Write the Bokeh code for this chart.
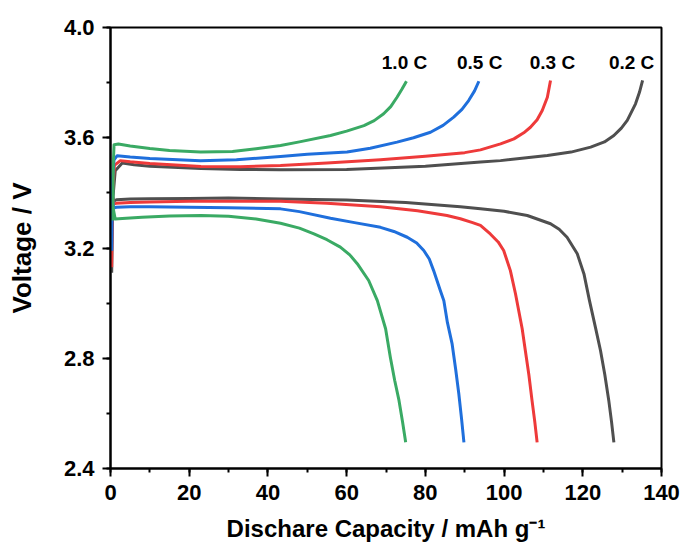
from bokeh.plotting import figure
from bokeh.models import Range1d, SingleIntervalTicker, NumeralTickFormatter, Label
from bokeh.embed import file_html
from bokeh.resources import INLINE

# ---- data ----
rates = ["1.0 C", "0.5 C", "0.3 C", "0.2 C"]
colors = ["#3aaa64", "#1f6fdc", "#ee3a3a", "#4f4f4f"]

chg_x_10 = [0.6, 0.7, 0.9, 2, 5, 10, 15, 22.9, 31, 37, 43.2, 48, 55.9, 60, 64.4, 67, 69.4, 71.2, 72.8, 74, 75.2]
chg_v_10 = [3.30, 3.50, 3.575, 3.577, 3.570, 3.561, 3.554, 3.548, 3.550, 3.560, 3.572, 3.585, 3.608, 3.624, 3.644, 3.662, 3.687, 3.713, 3.747, 3.775, 3.805]
chg_x_05 = [0.3, 0.5, 0.9, 1.7, 5, 10, 22.9, 32, 43.2, 50, 60.1, 66, 72.8, 77, 81.3, 84.5, 87.2, 89.3, 91, 92.5, 93.6]
chg_v_05 = [3.19, 3.45, 3.52, 3.535, 3.530, 3.525, 3.517, 3.520, 3.532, 3.540, 3.548, 3.562, 3.584, 3.600, 3.620, 3.645, 3.675, 3.703, 3.735, 3.770, 3.805]
chg_x_03 = [0.3, 0.5, 1.0, 2.5, 5, 10, 23, 33, 43.2, 55, 68.6, 80, 90, 94, 99.1, 102.5, 105, 106.7, 108.4, 109.7, 111, 111.8]
chg_v_03 = [3.13, 3.40, 3.50, 3.517, 3.513, 3.507, 3.496, 3.495, 3.499, 3.508, 3.520, 3.533, 3.546, 3.556, 3.578, 3.596, 3.618, 3.638, 3.665, 3.699, 3.747, 3.808]
chg_x_02 = [0.3, 0.6, 1.2, 3, 6, 10, 23, 33, 43.2, 60, 80, 94, 99.1, 111, 117, 122, 125.5, 127.9, 129.8, 131.3, 133.4, 134.4, 135.2]
chg_v_02 = [3.11, 3.38, 3.48, 3.508, 3.502, 3.497, 3.488, 3.485, 3.484, 3.485, 3.497, 3.512, 3.517, 3.536, 3.548, 3.566, 3.585, 3.608, 3.635, 3.663, 3.723, 3.765, 3.808]

dis_x_10 = [0.6, 1.2, 3, 8, 15, 23, 30, 37, 43.2, 48, 51.7, 55, 58.4, 60.8, 62.7, 65.6, 67.8, 69.9, 71.1, 72.2, 73.3, 74.2, 75.0]
dis_v_10 = [3.35, 3.305, 3.307, 3.312, 3.316, 3.318, 3.315, 3.305, 3.290, 3.272, 3.251, 3.230, 3.203, 3.175, 3.143, 3.082, 3.009, 2.907, 2.804, 2.720, 2.647, 2.570, 2.495]
dis_x_05 = [0.3, 0.8, 1.5, 5, 10, 20, 30, 43.2, 48, 55.9, 62, 68.6, 72, 75.4, 77.8, 79.6, 81, 82.1, 83.8, 84.7, 85.6, 86.8, 87.7, 88.5, 89.2, 89.8]
dis_v_05 = [3.40, 3.345, 3.348, 3.350, 3.350, 3.348, 3.346, 3.342, 3.332, 3.308, 3.292, 3.275, 3.260, 3.239, 3.218, 3.191, 3.160, 3.118, 3.046, 3.009, 2.930, 2.852, 2.760, 2.671, 2.580, 2.495]
dis_x_03 = [0.3, 0.8, 1.5, 5, 10, 20, 30, 43.2, 55, 68.6, 78, 85.5, 88.9, 92, 94, 96.5, 98.5, 99.9, 101.6, 102.9, 104.6, 105.4, 106.3, 107.1, 107.8, 108.4]
dis_v_03 = [3.40, 3.360, 3.362, 3.365, 3.367, 3.370, 3.370, 3.370, 3.362, 3.350, 3.335, 3.318, 3.306, 3.292, 3.282, 3.251, 3.222, 3.191, 3.118, 3.034, 2.907, 2.828, 2.740, 2.647, 2.570, 2.495]
dis_x_02 = [0.3, 0.8, 1.5, 5, 10, 20, 30, 43.2, 60, 75, 88.9, 94, 100, 105.9, 111.8, 114, 116, 118.6, 120.3, 121.7, 123.2, 124.5, 125.6, 126.6, 127.3, 127.9]
dis_v_02 = [3.40, 3.370, 3.375, 3.378, 3.379, 3.380, 3.381, 3.378, 3.374, 3.365, 3.350, 3.342, 3.333, 3.318, 3.288, 3.268, 3.239, 3.179, 3.106, 3.009, 2.913, 2.828, 2.740, 2.647, 2.570, 2.495]

label_x = [74.7, 93.8, 112.3, 132.4]
label_y = [3.873, 3.873, 3.873, 3.873]

x_tick_interval = 20
y_tick_interval = 0.4
x_title = "Dischare Capacity / mAh g\u207b\u00b9"
y_title = "Voltage / V"

charge = [(chg_x_10, chg_v_10), (chg_x_05, chg_v_05), (chg_x_03, chg_v_03), (chg_x_02, chg_v_02)]
discharge = [(dis_x_10, dis_v_10), (dis_x_05, dis_v_05), (dis_x_03, dis_v_03), (dis_x_02, dis_v_02)]

FONT = "Liberation Sans"

p = figure(width=686, height=552, output_backend="svg", toolbar_location=None,
           x_range=Range1d(0, 140), y_range=Range1d(2.4, 4.0),
           min_border_left=110, min_border_right=25, min_border_top=27, min_border_bottom=84)
p.xgrid.visible = False
p.ygrid.visible = False
p.outline_line_color = "black"
p.outline_line_width = 2
p.background_fill_color = "white"
p.border_fill_color = "white"

for i in [3, 2, 1, 0]:
    cx, cv = charge[i]
    dx, dv = discharge[i]
    p.line(cx, cv, line_color=colors[i], line_width=3, line_join="round")
    p.line(dx, dv, line_color=colors[i], line_width=3, line_join="round")

for ax in (p.xaxis[0], p.yaxis[0]):
    ax.axis_line_width = 2
    ax.major_tick_line_width = 2
    ax.minor_tick_line_width = 2
    ax.major_tick_out = 8
    ax.major_tick_in = 0
    ax.minor_tick_out = 4
    ax.minor_tick_in = 0
    ax.major_label_text_font = FONT
    ax.major_label_text_font_style = "bold"
    ax.major_label_text_font_size = "22px"
    ax.major_label_text_color = "black"
    ax.axis_line_color = "black"
    ax.major_tick_line_color = "black"
    ax.minor_tick_line_color = "black"
    ax.axis_label_text_font = FONT
    ax.axis_label_text_font_style = "bold"
    ax.axis_label_text_color = "black"

p.xaxis[0].ticker = SingleIntervalTicker(interval=x_tick_interval, num_minor_ticks=2)
p.yaxis[0].ticker = SingleIntervalTicker(interval=y_tick_interval, num_minor_ticks=2)
p.yaxis[0].formatter = NumeralTickFormatter(format="0.0")
p.xaxis[0].major_label_standoff = 8
p.yaxis[0].major_label_standoff = 8

p.xaxis[0].axis_label = x_title
p.xaxis[0].axis_label_text_font_size = "24px"
p.xaxis[0].axis_label_standoff = 12
p.yaxis[0].axis_label = y_title
p.yaxis[0].axis_label_text_font_size = "26px"
p.yaxis[0].axis_label_standoff = 24

for i, r in enumerate(rates):
    p.add_layout(Label(x=label_x[i], y=label_y[i], text=r, text_align="center",
                       text_baseline="middle", text_font=FONT, text_font_style="bold",
                       text_font_size="19px", text_color="black"))

open("out.html", "w").write(file_html(p, INLINE))
